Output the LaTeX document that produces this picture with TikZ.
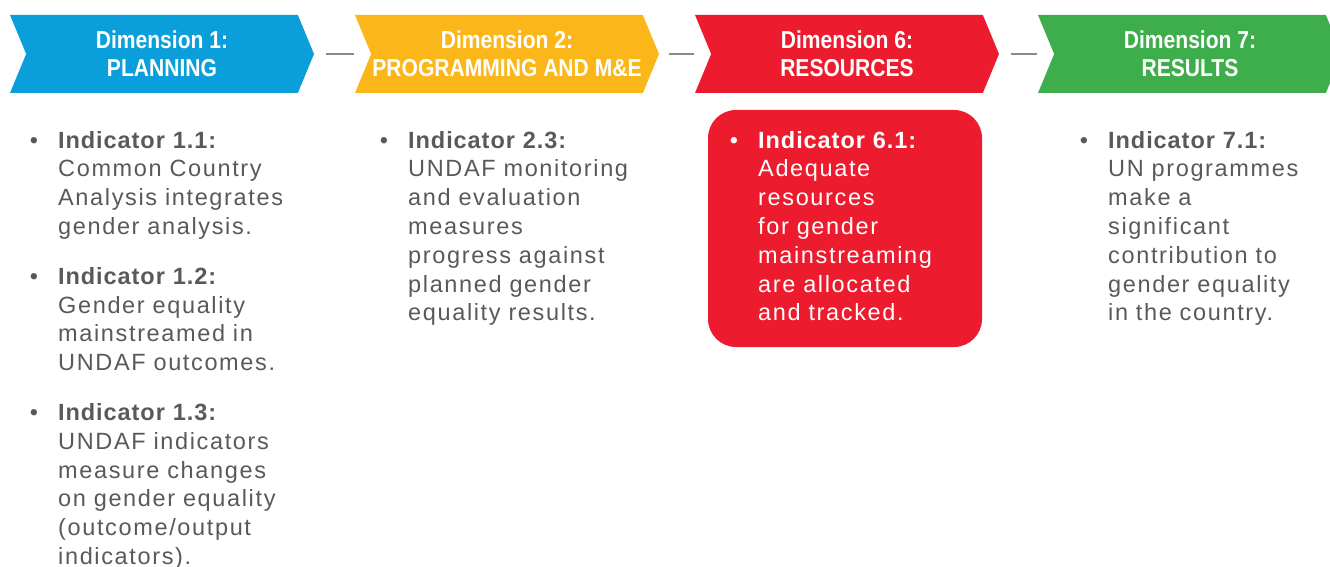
\documentclass[tikz,border=0pt]{standalone}
\usepackage{fontspec}
\setmainfont{Liberation Sans}
\newfontfamily\headfont{Liberation Sans}[FakeStretch=0.86]
\newfontfamily\itemfont{Liberation Sans}[LetterSpace=7,BoldFeatures={LetterSpace=4}]
\usetikzlibrary{shapes.symbols}
\definecolor{dimblue}{HTML}{0A9FDB}
\definecolor{dimyellow}{HTML}{FBB61A}
\definecolor{dimred}{HTML}{EC1C2E}
\definecolor{dimgreen}{HTML}{3DAE4B}
\definecolor{itemgray}{HTML}{58595B}
\definecolor{linkgray}{HTML}{8A8A8A}
% bullet hung in the left margin of an indicator
\newcommand\indbullet{\leavevmode\llap{\textbullet\hspace{20pt}}}

\begin{document}
\begin{tikzpicture}[x=1pt,y=-1pt]
\tikzset{
% chevron heads of the dimensions
dim node/.style={signal,signal to=east,signal from=west,signal pointer angle=135,
  minimum width=304pt,minimum height=78pt,inner sep=0pt,outer sep=0pt,
  text=white,align=center,font=\headfont\bfseries\fontsize{24.5}{28}\selectfont},
% indicator lists under the heads
item node/.style={anchor=base west,inner sep=0pt,text width=275pt,align=left,
  text=itemgray,font=\itemfont\fontsize{23.5}{28.8}\selectfont},
link/.style={draw=linkgray,line width=1.3pt}
}
\useasboundingbox (0,0) rectangle (1330,567);
% The heads
\node(d1)[dim node,fill=dimblue] at (162,54) {Dimension 1:\\PLANNING};
\node(d2)[dim node,fill=dimyellow] at (507,54) {Dimension 2:\\PROGRAMMING AND M\&E};
\node(d6)[dim node,fill=dimred] at (847,54) {Dimension 6:\\RESOURCES};
\node(d7)[dim node,fill=dimgreen] at (1190,54) {Dimension 7:\\RESULTS};
\draw[link] ([xshift=12pt]d1.east) -- ([xshift=-17pt]d2.west);
\draw[link] ([xshift=10pt]d2.east) -- ([xshift=-17pt]d6.west);
\draw[link] ([xshift=12pt]d6.east) -- ([xshift=-17pt]d7.west);
% The indicators
\node(box6)[fill=dimred,rounded corners=28pt,minimum width=274pt,minimum height=237pt,
  inner sep=0pt] at (845,228.5) {};
\node(i1)[item node] at (58,148) {%
\indbullet\textbf{Indicator 1.1:}\\Common Country\\Analysis integrates\\gender analysis.\\[21pt]%
\indbullet\textbf{Indicator 1.2:}\\Gender equality\\mainstreamed in\\UNDAF outcomes.\\[21pt]%
\indbullet\textbf{Indicator 1.3:}\\UNDAF indicators\\measure changes\\on gender equality\\(outcome/output\\indicators).};
\node(i2)[item node] at (408,148) {%
\indbullet\textbf{Indicator 2.3:}\\UNDAF monitoring\\and evaluation\\measures\\progress against\\planned gender\\equality results.};
\node(i6)[item node,text=white] at (758,148) {%
\indbullet\textbf{Indicator 6.1:}\\Adequate\\resources\\for gender\\mainstreaming\\are allocated\\and tracked.};
\node(i7)[item node] at (1108,148) {%
\indbullet\textbf{Indicator 7.1:}\\UN programmes\\make a\\significant\\contribution to\\gender equality\\in the country.};
\end{tikzpicture}
\end{document}
